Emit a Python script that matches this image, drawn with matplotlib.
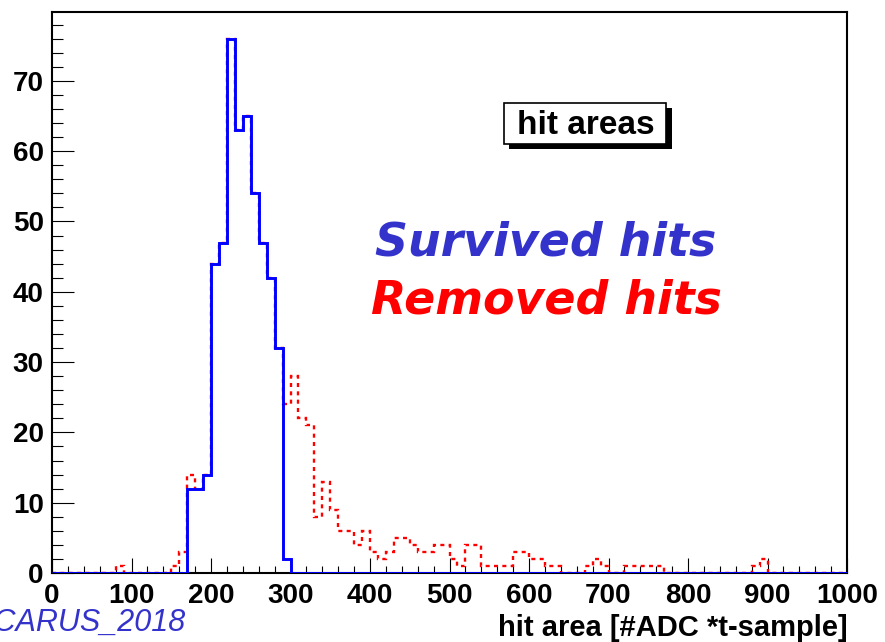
import matplotlib
matplotlib.use("Agg")
import matplotlib.pyplot as plt
import numpy as np
from matplotlib.patches import Rectangle

# histogram contents, 100 bins of width 10 over 0..1000
bin_edges = np.arange(0, 1001, 10)

survived_hits = [
    0, 0, 0, 0, 0, 0, 0, 0, 0, 0,
    0, 0, 0, 0, 0, 0, 0, 12, 12, 14,
    44, 47, 76, 63, 65, 54, 47, 42, 32, 2,
    0, 0, 0, 0, 0, 0, 0, 0, 0, 0,
    0, 0, 0, 0, 0, 0, 0, 0, 0, 0,
    0, 0, 0, 0, 0, 0, 0, 0, 0, 0,
    0, 0, 0, 0, 0, 0, 0, 0, 0, 0,
    0, 0, 0, 0, 0, 0, 0, 0, 0, 0,
    0, 0, 0, 0, 0, 0, 0, 0, 0, 0,
    0, 0, 0, 0, 0, 0, 0, 0, 0, 0,
]

removed_hits = [
    0, 0, 0, 0, 0, 0, 0, 0, 1, 0,
    0, 0, 0, 0, 0, 1, 3, 14, 12, 14,
    44, 47, 76, 63, 65, 54, 47, 42, 32, 24,
    28, 22, 21, 8, 13, 9, 6, 6, 4, 6,
    3, 2, 3, 5, 5, 4, 3, 3, 4, 4,
    2, 1, 4, 4, 1, 1, 1, 1, 3, 3,
    2, 2, 1, 1, 0, 0, 0, 1, 2, 1,
    0, 0, 1, 1, 1, 1, 1, 0, 0, 0,
    0, 0, 0, 0, 0, 0, 0, 0, 1, 2,
    0, 0, 0, 0, 0, 0, 0, 0, 0, 0,
]

x_ticks = np.arange(0, 1001, 100)
y_ticks = np.arange(0, 71, 10)

W, H = 885, 642
BLUE_TXT = "#3333cc"
LABEL_FONT = ["Liberation Sans", "DejaVu Sans"]

plt.rcParams["lines.scale_dashes"] = False


def fx(px):
    return px / W


def fy(py):
    return 1 - py / H


fig = plt.figure(figsize=(W / 100, H / 100), dpi=100)
ax = fig.add_axes([fx(52), fy(573), fx(847) - fx(52), fy(12) - fy(573)])

ax.stairs(removed_hits, bin_edges, color="red", linewidth=1.7,
          linestyle=(0, (2.9, 3.1)), zorder=2)
ax.stairs(survived_hits, bin_edges, color="#0000ff", linewidth=2.1, zorder=3)

ax.set_xlim(0, 1000)
ax.set_ylim(0, 79.8)

ax.set_xticks(x_ticks)
ax.set_xticks(np.arange(0, 1001, 20), minor=True)
ax.set_yticks(y_ticks)
ax.set_yticks(np.arange(0, 80, 2), minor=True)
ax.tick_params(axis="x", which="major", direction="in", length=10.8, width=0.8, pad=7)
ax.tick_params(axis="x", which="minor", direction="in", length=5.4, width=0.8)
ax.tick_params(axis="y", which="major", direction="in", length=16, width=0.8, pad=6)
ax.tick_params(axis="y", which="minor", direction="in", length=8, width=0.8)
for lab in ax.get_xticklabels() + ax.get_yticklabels():
    lab.set_family(LABEL_FONT)
    lab.set_fontweight("bold")
    lab.set_fontsize(20)
for sp in ax.spines.values():
    sp.set_linewidth(1.5)
    sp.set_color("black")

# "hit areas" box with shadow
fig.add_artist(Rectangle((fx(509), fy(149)), fx(672) - fx(509), fy(108) - fy(149),
                         transform=fig.transFigure, facecolor="black", edgecolor="none"))
fig.add_artist(Rectangle((fx(504), fy(144)), fx(666) - fx(504), fy(103) - fy(144),
                         transform=fig.transFigure, facecolor="white", edgecolor="black",
                         linewidth=1.2))
fig.text(fx(586), fy(125), "hit areas", ha="center", va="center", fontsize=24,
         fontweight="bold", family=LABEL_FONT)

fig.text(fx(546), fy(255), "Survived hits", ha="center", va="baseline", fontsize=33,
         fontweight="bold", fontstyle="oblique", family="DejaVu Sans", color=BLUE_TXT)
fig.text(fx(546), fy(313), "Removed hits", ha="center", va="baseline", fontsize=33,
         fontweight="bold", fontstyle="oblique", family="DejaVu Sans", color="red")

fig.text(fx(848), fy(628), "hit area [#ADC *t-sample]", ha="right", va="center",
         fontsize=21, fontweight="bold", family=LABEL_FONT)
fig.text(fx(186), fy(623), "ICARUS_2018", ha="right", va="center", fontsize=22,
         fontstyle="italic", family=LABEL_FONT, color=BLUE_TXT)

fig.savefig("out.png", dpi=100)
